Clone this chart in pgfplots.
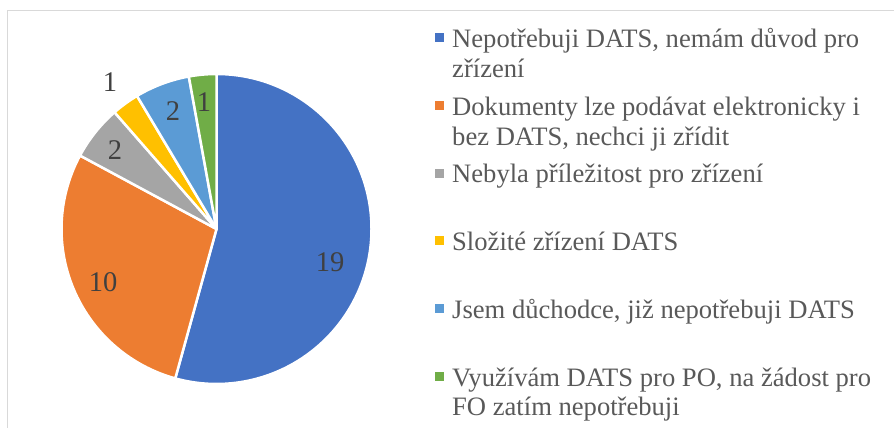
\documentclass[border=0pt]{standalone}
\usepackage{pgfplots}
\pgfplotsset{compat=1.18}
\usepackage{pgfplotstable}
\usepackage{fontspec}
\setmainfont{Liberation Serif}
\definecolor{c1}{HTML}{4472C4}
\definecolor{c2}{HTML}{ED7D31}
\definecolor{c3}{HTML}{A5A5A5}
\definecolor{c4}{HTML}{FFC000}
\definecolor{c5}{HTML}{5B9BD5}
\definecolor{c6}{HTML}{70AD47}
\definecolor{labgray}{HTML}{404040}
\definecolor{leggray}{HTML}{595959}
\definecolor{bordergray}{HTML}{D9D9D9}
\pgfplotstableread{
value col lx ly
19 c1 330 166
10 c2 103 146
2  c3 115 278
1  c4 110 346
2  c5 173 317
1  c6 204 326
}\piedata
\tikzset{lab/.style={font=\fontsize{28.5}{34}\selectfont, text=labgray},
  leg/.style={font=\fontsize{26.6}{31}\selectfont, text=leggray, anchor=base west, inner sep=0pt}}
\begin{document}
\begin{tikzpicture}
\useasboundingbox (0,0) rectangle (894pt,428pt);
\begin{axis}[x=1pt, y=1pt, xmin=0, xmax=894, ymin=0, ymax=428, hide axis, clip=false, anchor=origin, at={(0,0)}]
\draw[bordergray, line width=1pt] (axis cs:7,0) -- (axis cs:7,417) -- (axis cs:894,417);
\pgfmathsetmacro\total{0}
\pgfplotsforeachungrouped \i in {0,...,5}{%
  \pgfplotstablegetelem{\i}{value}\of\piedata
  \pgfmathsetmacro\total{\total+\pgfplotsretval}%
}
\pgfmathsetmacro\cum{0}
\pgfplotsforeachungrouped \i in {0,...,5}{%
  \pgfplotstablegetelem{\i}{value}\of\piedata \let\v\pgfplotsretval
  \pgfplotstablegetelem{\i}{col}\of\piedata \let\c\pgfplotsretval
  \pgfmathsetmacro\a{90-360*\cum/\total}%
  \pgfmathsetmacro\b{90-360*(\cum+\v)/\total}%
  \edef\temp{\noexpand\fill[\c, draw=white, line width=2.5pt, line join=round] (axis cs:216.5,199) -- ++(\a:155pt) arc[start angle=\a, end angle=\b, radius=155pt] -- cycle;}%
  \temp
  \pgfmathsetmacro\cum{\cum+\v}%
}
\pgfplotsforeachungrouped \i in {0,...,5}{%
  \pgfplotstablegetelem{\i}{value}\of\piedata \let\v\pgfplotsretval
  \pgfplotstablegetelem{\i}{lx}\of\piedata \let\lx\pgfplotsretval
  \pgfplotstablegetelem{\i}{ly}\of\piedata \let\ly\pgfplotsretval
  \edef\temp{\noexpand\node[lab] at (axis cs:\lx,\ly) {\v};}%
  \temp
}
% legend
\fill[c1] (axis cs:435,385.5) rectangle (axis cs:444,394.5);
\fill[c2] (axis cs:435,317.5) rectangle (axis cs:444,326.5);
\fill[c3] (axis cs:435,249.5) rectangle (axis cs:444,258.5);
\fill[c4] (axis cs:435,182.5) rectangle (axis cs:444,191.5);
\fill[c5] (axis cs:435,114.5) rectangle (axis cs:444,123.5);
\fill[c6] (axis cs:435,46.5) rectangle (axis cs:444,55.5);
\node[leg] at (axis cs:452,380) {Nepotřebuji DATS, nemám důvod pro};
\node[leg] at (axis cs:452,350) {zřízení};
\node[leg] at (axis cs:452,312) {Dokumenty lze podávat elektronicky i};
\node[leg] at (axis cs:452,282) {bez DATS, nechci ji zřídit};
\node[leg] at (axis cs:452,245.3) {Nebyla příležitost pro zřízení};
\node[leg] at (axis cs:452,177.3) {Složité zřízení DATS};
\node[leg] at (axis cs:452,109.7) {Jsem důchodce, již nepotřebuji DATS};
\node[leg] at (axis cs:452,41.3) {Využívám DATS pro PO, na žádost pro};
\node[leg] at (axis cs:452,12) {FO zatím nepotřebuji};
\end{axis}
\end{tikzpicture}
\end{document}
